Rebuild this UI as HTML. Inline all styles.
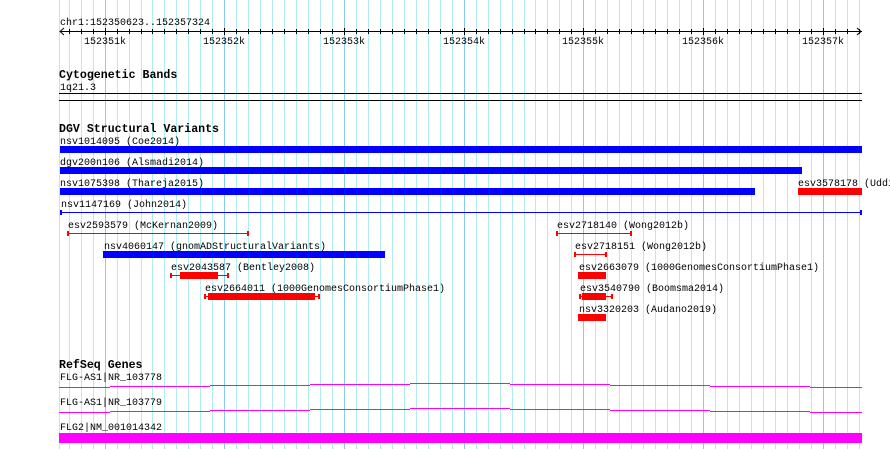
<!DOCTYPE html>
<html><head><meta charset="utf-8"><style>
html,body{margin:0;padding:0;background:#fff;}
svg{display:block;}
text{font-family:"Liberation Mono","DejaVu Sans Mono",monospace;font-size:10px;fill:#000;}
.t{font-weight:bold;font-size:11.6px;}
</style></head><body>
<svg id="c" width="890" height="449" viewBox="0 0 890 449"></svg>
<script>
const regionStart = 152350623;
const regionEnd = 152357324;
const majorTicks = [152351000,152352000,152353000,152354000,152355000,152356000,152357000];
const majorLabels = ["152351k","152352k","152353k","152354k","152355k","152356k","152357k"];
const svNames = ["nsv1014095 (Coe2014)","dgv200n106 (Alsmadi2014)","nsv1075398 (Thareja2015)","esv3578178 (Uddin2015)","nsv1147169 (John2014)","esv2593579 (McKernan2009)","nsv4060147 (gnomADStructuralVariants)","esv2043587 (Bentley2008)","esv2664011 (1000GenomesConsortiumPhase1)","esv2718140 (Wong2012b)","esv2718151 (Wong2012b)","esv2663079 (1000GenomesConsortiumPhase1)","esv3540790 (Boomsma2014)","nsv3320203 (Audano2019)"];
const svStarts = [152350623,152350623,152350623,152356791,152350623,152350682,152350983,152351544,152351828,152354774,152354925,152354958,152354967,152354958];
const svEnds = [152357324,152356824,152356431,152357324,152357324,152352205,152353343,152352038,152352799,152355410,152355201,152355192,152355251,152355192];
const svThickStarts = [152350623,152350623,152350623,152356791,null,null,152350983,152351628,152351862,null,null,152354958,152354992,152354958];
const svThickEnds = [152357324,152356824,152356431,152357324,null,null,152353343,152351946,152352757,null,null,152355192,152355192,152355192];
const svRows = [0,1,2,2,3,4,5,6,7,4,5,6,7,8];
const svColors = ["#0000ff","#0000ff","#0000ff","#ff0000","#0000ff","#ff0000","#0000ff","#ff0000","#ff0000","#ff0000","#ff0000","#ff0000","#ff0000","#ff0000"];
const geneNames = ["FLG-AS1|NR_103778","FLG-AS1|NR_103779","FLG2|NM_001014342"];

const NS="http://www.w3.org/2000/svg";
const svg=document.getElementById('c');
const X0=59.5, X1=861.5;
function xs(p){return X0+(p-regionStart)*(X1-X0)/(regionEnd-regionStart);}
function mk(tag,attrs,name,parent){const e=document.createElementNS(NS,tag);for(const k in attrs)e.setAttribute(k,attrs[k]);


(parent||svg).appendChild(e);return e;}
function txt(x,y,s,name,cls){const t=mk('text',{x:x,y:y},name);if(cls)t.setAttribute('class',cls);t.textContent=s;return t;}

// grid
const gFirst=Math.ceil(regionStart/100)*100;
mk('rect',{x:59,y:0,width:1,height:449,fill:'#b0eef0'},'grid-line-start');
for(let p=gFirst;p<=regionEnd;p+=100){
  const major=p%1000===0;
  mk('rect',{x:Math.round(xs(p)),y:0,width:1,height:449,fill:major?'#88ccee':'#b0eef0'},major?'major-grid-line':'minor-grid-line');
}
// ruler
txt(60,25,'chr1:'+regionStart+'..'+regionEnd,'region-label');
mk('rect',{x:60,y:31,width:802,height:1,fill:'#000'},'ruler-axis');
mk('path',{d:'M64 28 L60 31.5 L64 35 M857 28 L861 31.5 L857 35',stroke:'#000',fill:'none','stroke-width':1},'ruler-arrows');
for(let p=gFirst;p<=regionEnd;p+=100){
  const major=p%1000===0;
  mk('rect',{x:Math.round(xs(p)),y:major?28:29,width:1,height:major?7:5,fill:'#000'},'ruler-tick');
}
majorTicks.forEach((p,i)=>{txt(Math.round(xs(p))-21,44,majorLabels[i],'ruler-tick-label');});

// cytogenetic bands
txt(59,78,'Cytogenetic Bands','cytoband-track-title','t');
txt(60,90,'1q21.3','cytoband-label');
mk('rect',{x:59,y:93,width:803,height:1,fill:'#000'},'cytoband-line-top');
mk('rect',{x:59,y:100,width:803,height:1,fill:'#000'},'cytoband-line-bottom');

// DGV
txt(59,132,'DGV Structural Variants','dgv-track-title','t');
const rowY0=147, rowH=21;
svNames.forEach((n,i)=>{
  const top=rowY0+svRows[i]*rowH;
  const xa=Math.round(xs(svStarts[i])), xb=Math.round(xs(svEnds[i]));
  txt(xa+(svRows[i]>=3?1:0),top-3,n,'sv-label');
  const c=svColors[i];
  if(svThickStarts[i]!==null){
    const ta=Math.round(xs(svThickStarts[i])), tb=Math.round(xs(svThickEnds[i]));
    if(ta>xa+1||tb<xb-1){
      mk('rect',{x:xa,y:top+2,width:xb-xa,height:1,fill:c},'sv-line');
      mk('rect',{x:xa,y:top,width:2,height:5,fill:c},'sv-cap');
      mk('rect',{x:xb-2,y:top,width:2,height:5,fill:c},'sv-cap');
    }
    mk('rect',{x:ta,y:top-1,width:tb-ta,height:7,fill:c},'sv-bar');
  } else {
    mk('rect',{x:xa,y:top+2,width:xb-xa,height:1,fill:c},'sv-line');
    mk('rect',{x:xa,y:top,width:2,height:5,fill:c},'sv-cap');
    mk('rect',{x:xb-2,y:top,width:2,height:5,fill:c},'sv-cap');
  }
});

// RefSeq genes
txt(59,368,'RefSeq Genes','refseq-track-title','t');
geneNames.forEach((n,i)=>{
  txt(60,380+i*25,n,'gene-label');
});
const steps=[0,1,2,3,4,3,2,1,0];
[387,412].forEach((base,gi)=>{
  let d='';
  for(let k=0;k<steps.length;k++){
    const a=k===0?59:110+(k-1)*100, b=k===steps.length-1?862:110+k*100;
    d+='M'+a+' '+(base-steps[k]+0.5)+' H'+b+' ';
  }
  mk('path',{d:d,stroke:'#ff00ff','stroke-width':1,fill:'none'},'gene-intron-line');
});
mk('rect',{x:59,y:433,width:803,height:10,fill:'#ff00ff'},'gene-exon-bar');
</script>
</body></html>
